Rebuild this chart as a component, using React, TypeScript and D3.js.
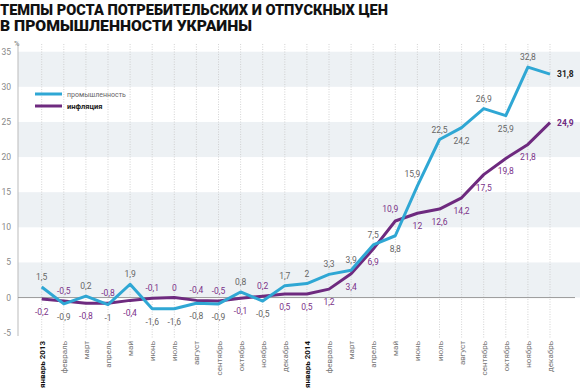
import React from "react";
import * as d3 from "d3";

const months = [
  "январь 2013", "февраль", "март", "апрель", "май", "июнь", "июль", "август",
  "сентябрь", "октябрь", "ноябрь", "декабрь",
  "январь 2014", "февраль", "март", "апрель", "май", "июнь", "июль", "август",
  "сентябрь", "октябрь", "ноябрь", "декабрь",
];
const industry = [1.5, -0.9, 0.2, -1, 1.9, -1.6, -1.6, -0.8, -0.9, 0.8, -0.5, 1.7,
  2, 3.3, 3.9, 7.5, 8.8, 15.9, 22.5, 24.2, 26.9, 25.9, 32.8, 31.8];
const inflation = [-0.2, -0.5, -0.8, -0.8, -0.4, -0.1, 0, -0.4, -0.5, -0.1, 0.2, 0.5,
  0.5, 1.2, 3.4, 6.9, 10.9, 12, 12.6, 14.2, 17.5, 19.8, 21.8, 24.9];
// label placement: 1 above, -1 below, 2 above-left, 0 right (last)
const industryPos = [1, -1, 1, -1, 1, -1, -1, -1, -1, 1, -1, 1, 1, 1, 1, 1, -1, 2, 1, -1, 1, -1, 1, 0];
const inflationPos = [-1, 1, -1, 1, -1, 1, 1, 1, 1, -1, 1, -1, -1, -1, -1, -1, 2, -1, -1, -1, -1, -1, -1, 0];
const yTicks = [-5, 0, 5, 10, 15, 20, 25, 30, 35];
const bands = [[30, 35], [20, 25], [10, 15], [0, 5]];

const BLUE = "#2fa7d4";
const PURPLE = "#6e2a7f";

const fmt = (v: number) => String(v).replace(".", ",");

export default function App() {
  const W = 580, H = 390;
  const x = d3.scaleLinear().domain([0, 23]).range([41.7, 550]);
  const y = d3.scaleLinear().domain([-5, 35]).range([332.7, 51.7]);
  const line = d3.line<number>().x((_, i) => x(i)).y((d) => y(d)).curve(d3.curveLinear);
  const left = 18;
  const font = "Roboto, 'Noto Sans', sans-serif";

  const labelFor = (vals: number[], pos: number[], color: string, boldColor: string) =>
    vals.map((v, i) => {
      const px = x(i), py = y(v);
      const p = pos[i];
      if (p === 0) {
        return (
          <text key={i} x={px + 7} y={py + 3} fontSize={8.5} fontWeight={700} fill={boldColor} fontFamily={font}>
            {fmt(v)}
          </text>
        );
      }
      if (p === 2) {
        return (
          <text key={i} x={px - 5} y={py - 9} fontSize={8.5} fill={color} textAnchor="middle" fontFamily={font}>
            {fmt(v)}
          </text>
        );
      }
      return (
        <text key={i} x={px} y={p > 0 ? py - 7 : py + 16} fontSize={8.5} fill={color} textAnchor="middle" fontFamily={font}>
          {fmt(v)}
        </text>
      );
    });

  return (
    <svg width={W} height={H} style={{ position: "absolute", left: 0, top: 0, background: "#fff" }}>
      <text x={0} y={14.5} fontSize={15.5} fontWeight={900} fontFamily={font} fill="#111" textLength={388} lengthAdjust="spacingAndGlyphs">
        ТЕМПЫ РОСТА ПОТРЕБИТЕЛЬСКИХ И ОТПУСКНЫХ ЦЕН
      </text>
      <text x={0} y={31} fontSize={15.5} fontWeight={900} fontFamily={font} fill="#111" textLength={252} lengthAdjust="spacingAndGlyphs">
        В ПРОМЫШЛЕННОСТИ УКРАИНЫ
      </text>

      {bands.map(([a, b], i) => (
        <rect key={i} x={left} y={y(b)} width={W - left} height={y(a) - y(b)} fill="#edf1f4" />
      ))}

      {months.map((_, i) => (
        <line key={i} x1={x(i)} x2={x(i)} y1={44} y2={338} stroke="#c8c8c8" strokeWidth={0.8} strokeDasharray="1,1.5" />
      ))}

      <line x1={left} x2={left} y1={44} y2={336} stroke="#bbb" strokeWidth={1} />
      <line x1={left} x2={575} y1={y(0)} y2={y(0)} stroke="#999" strokeWidth={1} />

      {yTicks.map((t) => (
        <text key={t} x={11} y={y(t) + 3} fontSize={8.5} fill="#888" textAnchor="end" fontFamily={font}>
          {t}
        </text>
      ))}
      <text x={14} y={46} fontSize={7.5} fill="#777" fontFamily={font}>%</text>

      <path d={line(inflation) || ""} fill="none" stroke={PURPLE} strokeWidth={3} strokeLinejoin="round" />
      <path d={line(industry) || ""} fill="none" stroke={BLUE} strokeWidth={3} strokeLinejoin="round" />

      {labelFor(industry, industryPos, "#666", "#222")}
      {labelFor(inflation, inflationPos, "#7b3289", PURPLE)}

      <line x1={35} x2={62} y1={94} y2={94} stroke={BLUE} strokeWidth={3} />
      <text x={67} y={96.5} fontSize={7} fill="#666" fontFamily={font}>промышленность</text>
      <line x1={35} x2={62} y1={106} y2={106} stroke={PURPLE} strokeWidth={3} />
      <text x={67} y={108.5} fontSize={7.5} fontWeight={700} fill="#222" fontFamily={font}>инфляция</text>

      {months.map((m, i) => {
        const bold = i % 12 === 0;
        return (
          <text
            key={i}
            transform={`translate(${x(i) + 3},${341}) rotate(-90)`}
            fontSize={8}
            textAnchor="end"
            fontWeight={bold ? 700 : 400}
            fill={bold ? "#111" : "#777"}
            fontFamily={font}
          >
            {m}
          </text>
        );
      })}
    </svg>
  );
}
